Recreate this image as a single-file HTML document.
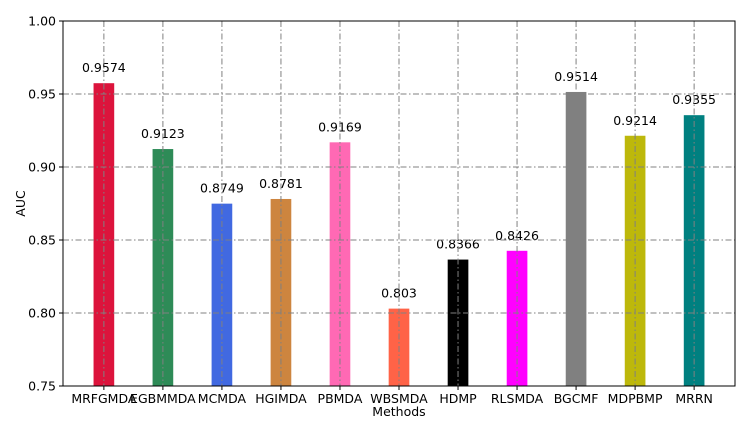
<!DOCTYPE html>
<html><head><meta charset="utf-8"><style>
body{margin:0;background:#fff}
svg{display:block;font-family:"DejaVu Sans","Liberation Sans",sans-serif}
</style></head><body>
<svg id="chart" width="754" height="425"></svg>
<script>
const categories=["MRFGMDA","EGBMMDA","MCMDA","HGIMDA","PBMDA","WBSMDA","HDMP","RLSMDA","BGCMF","MDPBMP","MRRN"];
const values=[0.9574,0.9123,0.8749,0.8781,0.9169,0.803,0.8366,0.8426,0.9514,0.9214,0.9355];
const valueLabels=["0.9574","0.9123","0.8749","0.8781","0.9169","0.803","0.8366","0.8426","0.9514","0.9214","0.9355"];
const colors=["#dc143c","#2e8b57","#4169e1","#cd853f","#ff69b4","#ff6347","#000000","#ff00ff","#808080","#bdb80b","#008080"];
const yTicks=[0.75,0.80,0.85,0.90,0.95,1.00];
const yTickLabels=["0.75","0.80","0.85","0.90","0.95","1.00"];
const NS="http://www.w3.org/2000/svg";
const svg=document.getElementById('chart');
const L=63,R=735,T=21,B=386;
const xmin=-0.6925,xmax=10.6925,ymin=0.75,ymax=1.0;
function xs(i){return L+(i-xmin)/(xmax-xmin)*(R-L);}
function ys(v){return B-(v-ymin)/(ymax-ymin)*(B-T);}
function el(tag,attrs,parent){const e=document.createElementNS(NS,tag);for(const k in attrs)e.setAttribute(k,attrs[k]);(parent||svg).appendChild(e);return e;}
const bw=0.35*(R-L)/(xmax-xmin);
categories.forEach((c,i)=>{
  const r=el('rect',{x:xs(i)-bw/2,y:ys(values[i]),width:bw,height:B-ys(values[i]),fill:colors[i]});
  
  
  const t=el('text',{x:xs(i),y:ys(values[i]+0.0075),'text-anchor':'middle','font-size':'12.5',fill:'#000'});
  t.textContent=valueLabels[i];
  
  
  const g=el('line',{x1:xs(i),x2:xs(i),y1:T,y2:B,stroke:'#808080','stroke-width':1,'stroke-dasharray':'6,2.5,1.5,2.5'});
  
  
  el('line',{x1:xs(i),x2:xs(i),y1:B,y2:B+4,stroke:'#000'});
  const tl=el('text',{x:xs(i),y:B+17,'text-anchor':'middle','font-size':'12.5',fill:'#000'});
  tl.textContent=c;
  
  
});
yTicks.forEach((v,k)=>{
  if(v>ymin&&v<ymax){
    const g=el('line',{x1:L,x2:R,y1:ys(v),y2:ys(v),stroke:'#808080','stroke-width':1,'stroke-dasharray':'6,2.5,1.5,2.5'});
    
    
  }
  el('line',{x1:L-4,x2:L,y1:ys(v),y2:ys(v),stroke:'#000'});
  const t=el('text',{x:L-7,y:ys(v)+4.5,'text-anchor':'end','font-size':'12.5',fill:'#000'});
  t.textContent=yTickLabels[k];
  
  
});
const fr=el('rect',{x:L,y:T,width:R-L,height:B-T,fill:'none',stroke:'#000','stroke-width':1});


const xt=el('text',{x:(L+R)/2,y:416,'text-anchor':'middle','font-size':'12.5'});
xt.textContent='Methods';


const yt=el('text',{x:0,y:0,'text-anchor':'middle','font-size':'12.5',transform:'translate(25,'+((T+B)/2)+') rotate(-90)'});
yt.textContent='AUC';


</script>
</body></html>
